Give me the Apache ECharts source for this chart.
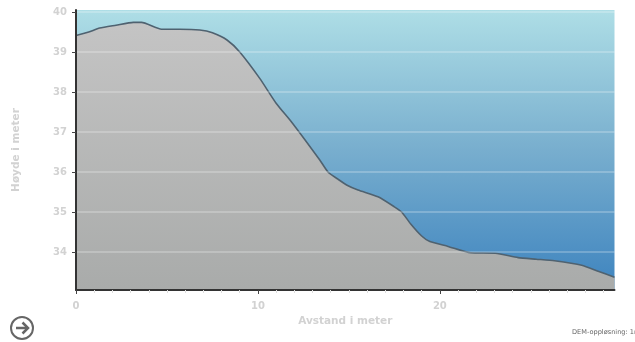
<!DOCTYPE html>
<html>
<head>
<meta charset="utf-8">
<title>Høydeprofil</title>
<script src="https://cdn.jsdelivr.net/npm/echarts@6/dist/echarts.min.js"></script>
<style>
html, body { margin: 0; padding: 0; background: #fff; overflow: hidden; }
#main { width: 635px; height: 342px; }
</style>
</head>
<body>
<div id="main"></div>
<script>
// avstand (m) og høyde (m) lest av bildet
const distances = [0, 0.7, 1.3, 2.2, 3.15, 3.6, 4.7, 5.7, 6.8, 7.5, 8.3, 9, 10.1, 11, 11.9, 13.4, 13.85, 14.4, 14.9, 15.5, 16.6, 17.5, 17.9, 18.4, 19, 19.45, 20.45, 21.7, 23.05, 24.3, 25.3, 26.3, 27.8, 28.7, 29.6]
const heights = [39.41, 39.5, 39.6, 39.67, 39.74, 39.74, 39.57, 39.57, 39.55, 39.48, 39.3, 39.0, 38.34, 37.72, 37.22, 36.3, 36.0, 35.82, 35.67, 35.55, 35.38, 35.13, 35.0, 34.7, 34.4, 34.26, 34.14, 33.98, 33.97, 33.86, 33.82, 33.78, 33.67, 33.52, 33.37]
const yTicks = [34, 35, 36, 37, 38, 39, 40]
const xTicks = [0, 10, 20]

const labelFont = { color: '#d2d2d2', fontFamily: 'DejaVu Sans', fontWeight: 'bold', fontSize: 10 }

const mychart = echarts.init(document.getElementById('main'))

const option = {
    animation: false,
    grid: {
        left: 76, right: 20.5, top: 10, bottom: 52,
        show: true,
        borderWidth: 0,
        backgroundColor: new echarts.graphic.LinearGradient(0, 0, 0, 1, [
            { offset: 0, color: '#aedee6' },
            { offset: 0.5, color: '#78aece' },
            { offset: 1, color: '#3e84bf' }
        ])
    },
    xAxis: {
        type: 'value',
        z: 3,
        min: 0,
        max: 29.6,
        interval: 10,
        name: 'Avstand i meter',
        nameLocation: 'middle',
        nameGap: 22,
        nameTextStyle: { ...labelFont, fontSize: 10.5 },
        axisLine: { lineStyle: { color: '#333', width: 2 } },
        axisTick: { length: 4, customValues: xTicks, lineStyle: { color: '#444' } },
        minorTick: { show: true, splitNumber: 10, length: 3, lineStyle: { color: '#ddd' } },
        axisLabel: { ...labelFont, margin: 11, customValues: xTicks },
        splitLine: { show: false }
    },
    yAxis: {
        type: 'value',
        z: 3,
        min: 33.05,
        max: 40.05,
        name: 'Høyde i meter',
        nameLocation: 'middle',
        nameGap: 54,
        nameTextStyle: { ...labelFont, fontSize: 10.5 },
        axisLine: { show: true, onZero: false, lineStyle: { color: '#333', width: 2 } },
        axisTick: { show: true, length: 4, customValues: yTicks, lineStyle: { color: '#444' } },
        axisLabel: { ...labelFont, margin: 9, customValues: yTicks },
        splitLine: { show: true, lineStyle: { color: 'rgba(255,255,255,0.3)', width: 1.5 } }
    },
    series: [{
        type: 'line',
        z: 1,
        data: distances.map((d, i) => [d, heights[i]]),
        smooth: 0.2,
        showSymbol: false,
        lineStyle: { color: '#4f6270', width: 1.6 },
        areaStyle: {
            opacity: 1,
            origin: 'start',
            color: new echarts.graphic.LinearGradient(0, 0, 0, 1, [
                { offset: 0, color: '#c4c4c4' },
                { offset: 1, color: '#a9abaa' }
            ])
        }
    }],
    graphic: [
        {
            type: 'group', left: 10, top: 316,
            children: [
                { type: 'circle', shape: { cx: 12, cy: 12, r: 11 }, style: { fill: '#fff', stroke: '#666', lineWidth: 2 } },
                { type: 'polyline', shape: { points: [[6, 12], [18, 12]] }, style: { stroke: '#666', lineWidth: 2.5, fill: null } },
                { type: 'polyline', shape: { points: [[12.5, 6.5], [18, 12], [12.5, 17.5]] }, style: { stroke: '#666', lineWidth: 2.5, fill: null } }
            ]
        },
        {
            type: 'text', left: 572, top: 329,
            style: { text: 'DEM-oppløsning: 1m', fill: '#666', font: '6.6px "DejaVu Sans"' }
        }
    ]
}

mychart.setOption(option)
</script>
</body>
</html>
